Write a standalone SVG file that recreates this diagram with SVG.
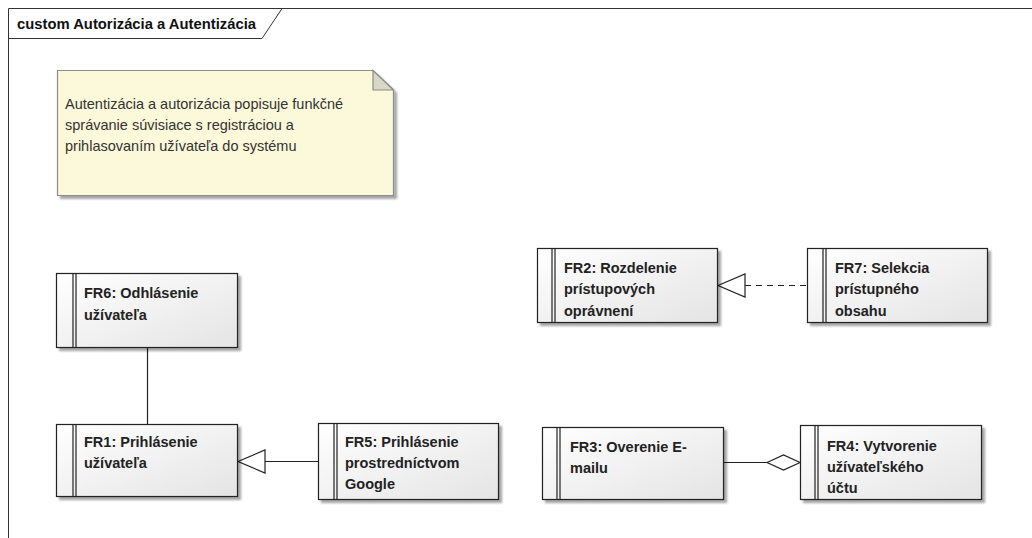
<svg xmlns="http://www.w3.org/2000/svg" width="1032" height="538" viewBox="0 0 1032 538">
  <defs>
    <linearGradient id="boxFill" x1="0" y1="0" x2="1" y2="1">
      <stop offset="0" stop-color="#ffffff"/>
      <stop offset="1" stop-color="#e4e4e4"/>
    </linearGradient>
    <filter id="shadow" x="-10%" y="-10%" width="130%" height="130%">
      <feGaussianBlur in="SourceAlpha" stdDeviation="1.2"/>
      <feOffset dx="3" dy="3" result="b"/>
      <feComponentTransfer><feFuncA type="linear" slope="0.35"/></feComponentTransfer>
      <feMerge><feMergeNode/><feMergeNode in="SourceGraphic"/></feMerge>
    </filter>
  </defs>
  <style>
    .frame { fill: none; stroke: #333; stroke-width: 1; }
    .title { font-family: "Liberation Sans", Arial, sans-serif; font-size: 14.8px; font-weight: bold; fill: #111; }
    .note { fill: #fbf9da; stroke: #8c8c8c; stroke-width: 1.2; }
    .fold { fill: #d9d8c4; stroke: #8c8c8c; stroke-width: 1.2; }
    .noteText { font-family: "Liberation Sans", Arial, sans-serif; font-size: 14.5px; fill: #333; }
    .box { fill: url(#boxFill); stroke: #222; stroke-width: 1.2; }
    .bar { fill: none; stroke: #222; stroke-width: 1.2; }
    .label { font-family: "Liberation Sans", Arial, sans-serif; font-size: 14.5px; font-weight: bold; fill: #222; }
    .edge { fill: none; stroke: #222; stroke-width: 1.2; }
    .dash { stroke-dasharray: 6 5; }
    .head { fill: #fff; stroke: #222; stroke-width: 1.2; }
  </style>

  <rect width="1032" height="538" fill="#fff"/>

  <!-- diagram frame with name tab -->
  <g id="frame">
    <path class="frame" d="M8.5 538 V8.5 H1032"/>
    <path class="frame" d="M8.5 38.5 H262 L282 8.5"/>
    <text class="title" x="17" y="29">custom Autorizácia a Autentizácia</text>
  </g>

  <!-- description note -->
  <g id="note">
    <path class="note" d="M57.5 70.5 H373 L393.5 90 V195.5 H57.5 Z" filter="url(#shadow)"/>
    <path class="fold" d="M373 70.5 V90 H393.5 Z"/>
    <text class="noteText" x="65" y="109">Autentizácia a autorizácia popisuje funkčné</text>
    <text class="noteText" x="65" y="130">správanie súvisiace s registráciou a</text>
    <text class="noteText" x="65" y="151">prihlasovaním užívateľa do systému</text>
  </g>

  <!-- connectors -->
  <g id="connectors">
    <!-- FR6 — FR1 -->
    <path class="edge" d="M147.5 347 V424"/>
    <!-- FR5 generalizes to FR1 -->
    <path class="edge" d="M265 461.5 H318"/>
    <path class="head" d="M238 461.5 L265 450 V473 Z"/>
    <!-- FR7 realizes FR2 -->
    <path class="edge dash" d="M745 285.5 H807"/>
    <path class="head" d="M718 285.5 L745 274 V297 Z"/>
    <!-- FR3 aggregated in FR4 -->
    <path class="edge" d="M723 462.5 H767"/>
    <path class="head" d="M767 462.5 L783.5 455 L800 462.5 L783.5 470 Z"/>
  </g>

  <!-- requirement nodes -->
  <g id="fr6">
    <rect class="box" x="56.5" y="273.5" width="181" height="74" filter="url(#shadow)"/>
    <path class="bar" d="M73 273.5 V347.5 M76 273.5 V347.5"/>
    <text class="label" x="84" y="298">FR6: Odhlásenie</text>
    <text class="label" x="84" y="320">užívateľa</text>
  </g>

  <g id="fr1">
    <rect class="box" x="56.5" y="424.5" width="181" height="72" filter="url(#shadow)"/>
    <path class="bar" d="M73 424.5 V496.5 M76 424.5 V496.5"/>
    <text class="label" x="84" y="447">FR1: Prihlásenie</text>
    <text class="label" x="84" y="468">užívateľa</text>
  </g>

  <g id="fr5">
    <rect class="box" x="318.5" y="423.5" width="180" height="76" filter="url(#shadow)"/>
    <path class="bar" d="M334 423.5 V499.5 M337 423.5 V499.5"/>
    <text class="label" x="345" y="447">FR5: Prihlásenie</text>
    <text class="label" x="345" y="468">prostredníctvom</text>
    <text class="label" x="345" y="489">Google</text>
  </g>

  <g id="fr2">
    <rect class="box" x="537.5" y="248.5" width="180" height="74" filter="url(#shadow)"/>
    <path class="bar" d="M552 248.5 V322.5 M555 248.5 V322.5"/>
    <text class="label" x="564" y="273">FR2: Rozdelenie</text>
    <text class="label" x="564" y="294">prístupových</text>
    <text class="label" x="564" y="316">oprávnení</text>
  </g>

  <g id="fr7">
    <rect class="box" x="807.5" y="248.5" width="180" height="74" filter="url(#shadow)"/>
    <path class="bar" d="M823 248.5 V322.5 M826 248.5 V322.5"/>
    <text class="label" x="835" y="273">FR7: Selekcia</text>
    <text class="label" x="835" y="294">prístupného</text>
    <text class="label" x="835" y="316">obsahu</text>
  </g>

  <g id="fr3">
    <rect class="box" x="542.5" y="427.5" width="181" height="72" filter="url(#shadow)"/>
    <path class="bar" d="M557 427.5 V499.5 M560 427.5 V499.5"/>
    <text class="label" x="570" y="452">FR3: Overenie E-</text>
    <text class="label" x="570" y="473">mailu</text>
  </g>

  <g id="fr4">
    <rect class="box" x="800.5" y="425.5" width="181" height="74" filter="url(#shadow)"/>
    <path class="bar" d="M815 425.5 V499.5 M818 425.5 V499.5"/>
    <text class="label" x="827" y="451">FR4: Vytvorenie</text>
    <text class="label" x="827" y="472">užívateľského</text>
    <text class="label" x="827" y="493">účtu</text>
  </g>
</svg>
